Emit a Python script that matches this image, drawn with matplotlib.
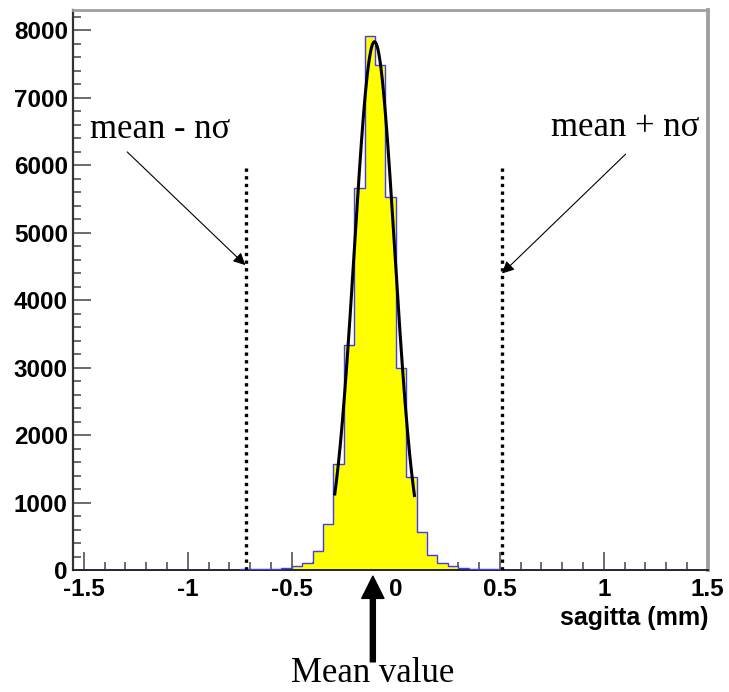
import numpy as np
import matplotlib
matplotlib.use("Agg")
from matplotlib import pyplot as plt
from matplotlib.ticker import MultipleLocator, FixedLocator

plt.rcParams['axes.unicode_minus'] = False

# histogram: 61 bins of 0.05 mm from -1.55 to 1.50
bin_lo, bin_hi, n_bins = -1.55, 1.50, 61
counts = [0, 1, 0, 1, 1, 0, 1, 2, 1, 1, 2, 1, 2, 2, 3,
          5, 12, 12, 15, 20, 30, 59, 105, 280, 675, 1570, 3333, 5660,
          7914, 7490, 5529, 2993, 1380, 562, 225, 106, 55, 32, 20, 12, 8, 5,
          4, 3, 3, 2, 2, 1, 2, 1, 1, 1, 0, 1, 1, 0, 1, 0, 0, 1, 0]

# gaussian fit
fit_amp, fit_mean, fit_sigma = 7830, -0.102, 0.097
fit_range = (-0.293, 0.090)

# cut lines (mean -/+ n sigma)
cut_x = [-0.72, 0.51]
cut_top = 6000
mean_x = -0.11

x_ticks = [-1.5, -1, -0.5, 0, 0.5, 1, 1.5]
x_ticklabels = ['-1.5', '-1', '-0.5', '0', '0.5', '1', '1.5']
y_ticks = [0, 1000, 2000, 3000, 4000, 5000, 6000, 7000, 8000]

serif = ['Liberation Serif', 'DejaVu Serif']
sans = ['Liberation Sans', 'DejaVu Sans']

fig, ax = plt.subplots(figsize=(7.29, 6.92), dpi=100)
fig.subplots_adjust(left=0.1006, right=0.9708, bottom=0.1763, top=0.9855)

edges = np.linspace(bin_lo, bin_hi, n_bins + 1)
ax.stairs(counts, edges, fill=True, color='#ffff00', zorder=2)
ax.stairs(counts, edges, color='#3c3cff', lw=1.0, zorder=3)

xf = np.linspace(fit_range[0], fit_range[1], 200)
yf = fit_amp * np.exp(-0.5 * ((xf - fit_mean) / fit_sigma) ** 2)
ax.plot(xf, yf, color='black', lw=2.2, zorder=4)

for cx in cut_x:
    ax.plot([cx, cx], [0, cut_top], color='black', lw=2.4,
            linestyle=(0, (1, 1.3)), dash_capstyle='butt', zorder=5)

# annotations
ax.text(-1.468, 6400, 'mean - n\u03c3', family=serif, fontsize=25,
        ha='left', va='baseline')
ax.annotate('', xy=(-0.723, 4519), xytext=(-1.291, 6197),
            arrowprops=dict(arrowstyle='-|>', color='black', lw=0.8,
                            mutation_scale=18, shrinkA=0, shrinkB=0), zorder=6)
ax.text(1.459, 6430, 'mean + n\u03c3', family=serif, fontsize=25,
        ha='right', va='baseline')
ax.annotate('', xy=(0.511, 4395), xytext=(1.105, 6163),
            arrowprops=dict(arrowstyle='-|>', color='black', lw=0.8,
                            mutation_scale=18, shrinkA=0, shrinkB=0), zorder=6)

xt = ax.get_xaxis_transform()
ax.annotate('', xy=(mean_x, -0.011), xycoords=xt,
            xytext=(mean_x, -0.164), textcoords=xt,
            arrowprops=dict(width=3.6, headwidth=16, headlength=16,
                            facecolor='black', edgecolor='black', shrink=0),
            annotation_clip=False)
ax.text(mean_x, -0.200, 'Mean value', transform=xt, family=serif,
        fontsize=25, ha='center', va='baseline', clip_on=False)

ax.text(1.002, -0.098, 'sagitta (mm)', transform=ax.transAxes, family=sans,
        fontsize=18, fontweight='bold', ha='right', va='baseline')

ax.set_xlim(-1.55, 1.5)
ax.set_ylim(0, 8300)
ax.xaxis.set_major_locator(FixedLocator(x_ticks))
ax.set_xticklabels(x_ticklabels)
ax.xaxis.set_minor_locator(MultipleLocator(0.1))
ax.yaxis.set_major_locator(FixedLocator(y_ticks))
ax.yaxis.set_minor_locator(MultipleLocator(200))

ax.tick_params(which='both', direction='in', color='#444444', width=1.1)
ax.tick_params(which='major', length=13)
ax.tick_params(which='minor', length=6)
ax.tick_params(axis='x', pad=6)
ax.tick_params(axis='y', pad=4)
for lab in ax.get_xticklabels() + ax.get_yticklabels():
    lab.set_family(sans)
    lab.set_fontweight('bold')
    lab.set_fontsize(17.5)

ax.spines['left'].set_color('#333333')
ax.spines['left'].set_linewidth(1.6)
ax.spines['bottom'].set_color('#222222')
ax.spines['bottom'].set_linewidth(1.4)
ax.spines['top'].set_color('#a0a0a0')
ax.spines['top'].set_linewidth(2.0)
ax.spines['right'].set_color('#a0a0a0')
ax.spines['right'].set_linewidth(2.8)

fig.savefig('out.png', dpi=100)
